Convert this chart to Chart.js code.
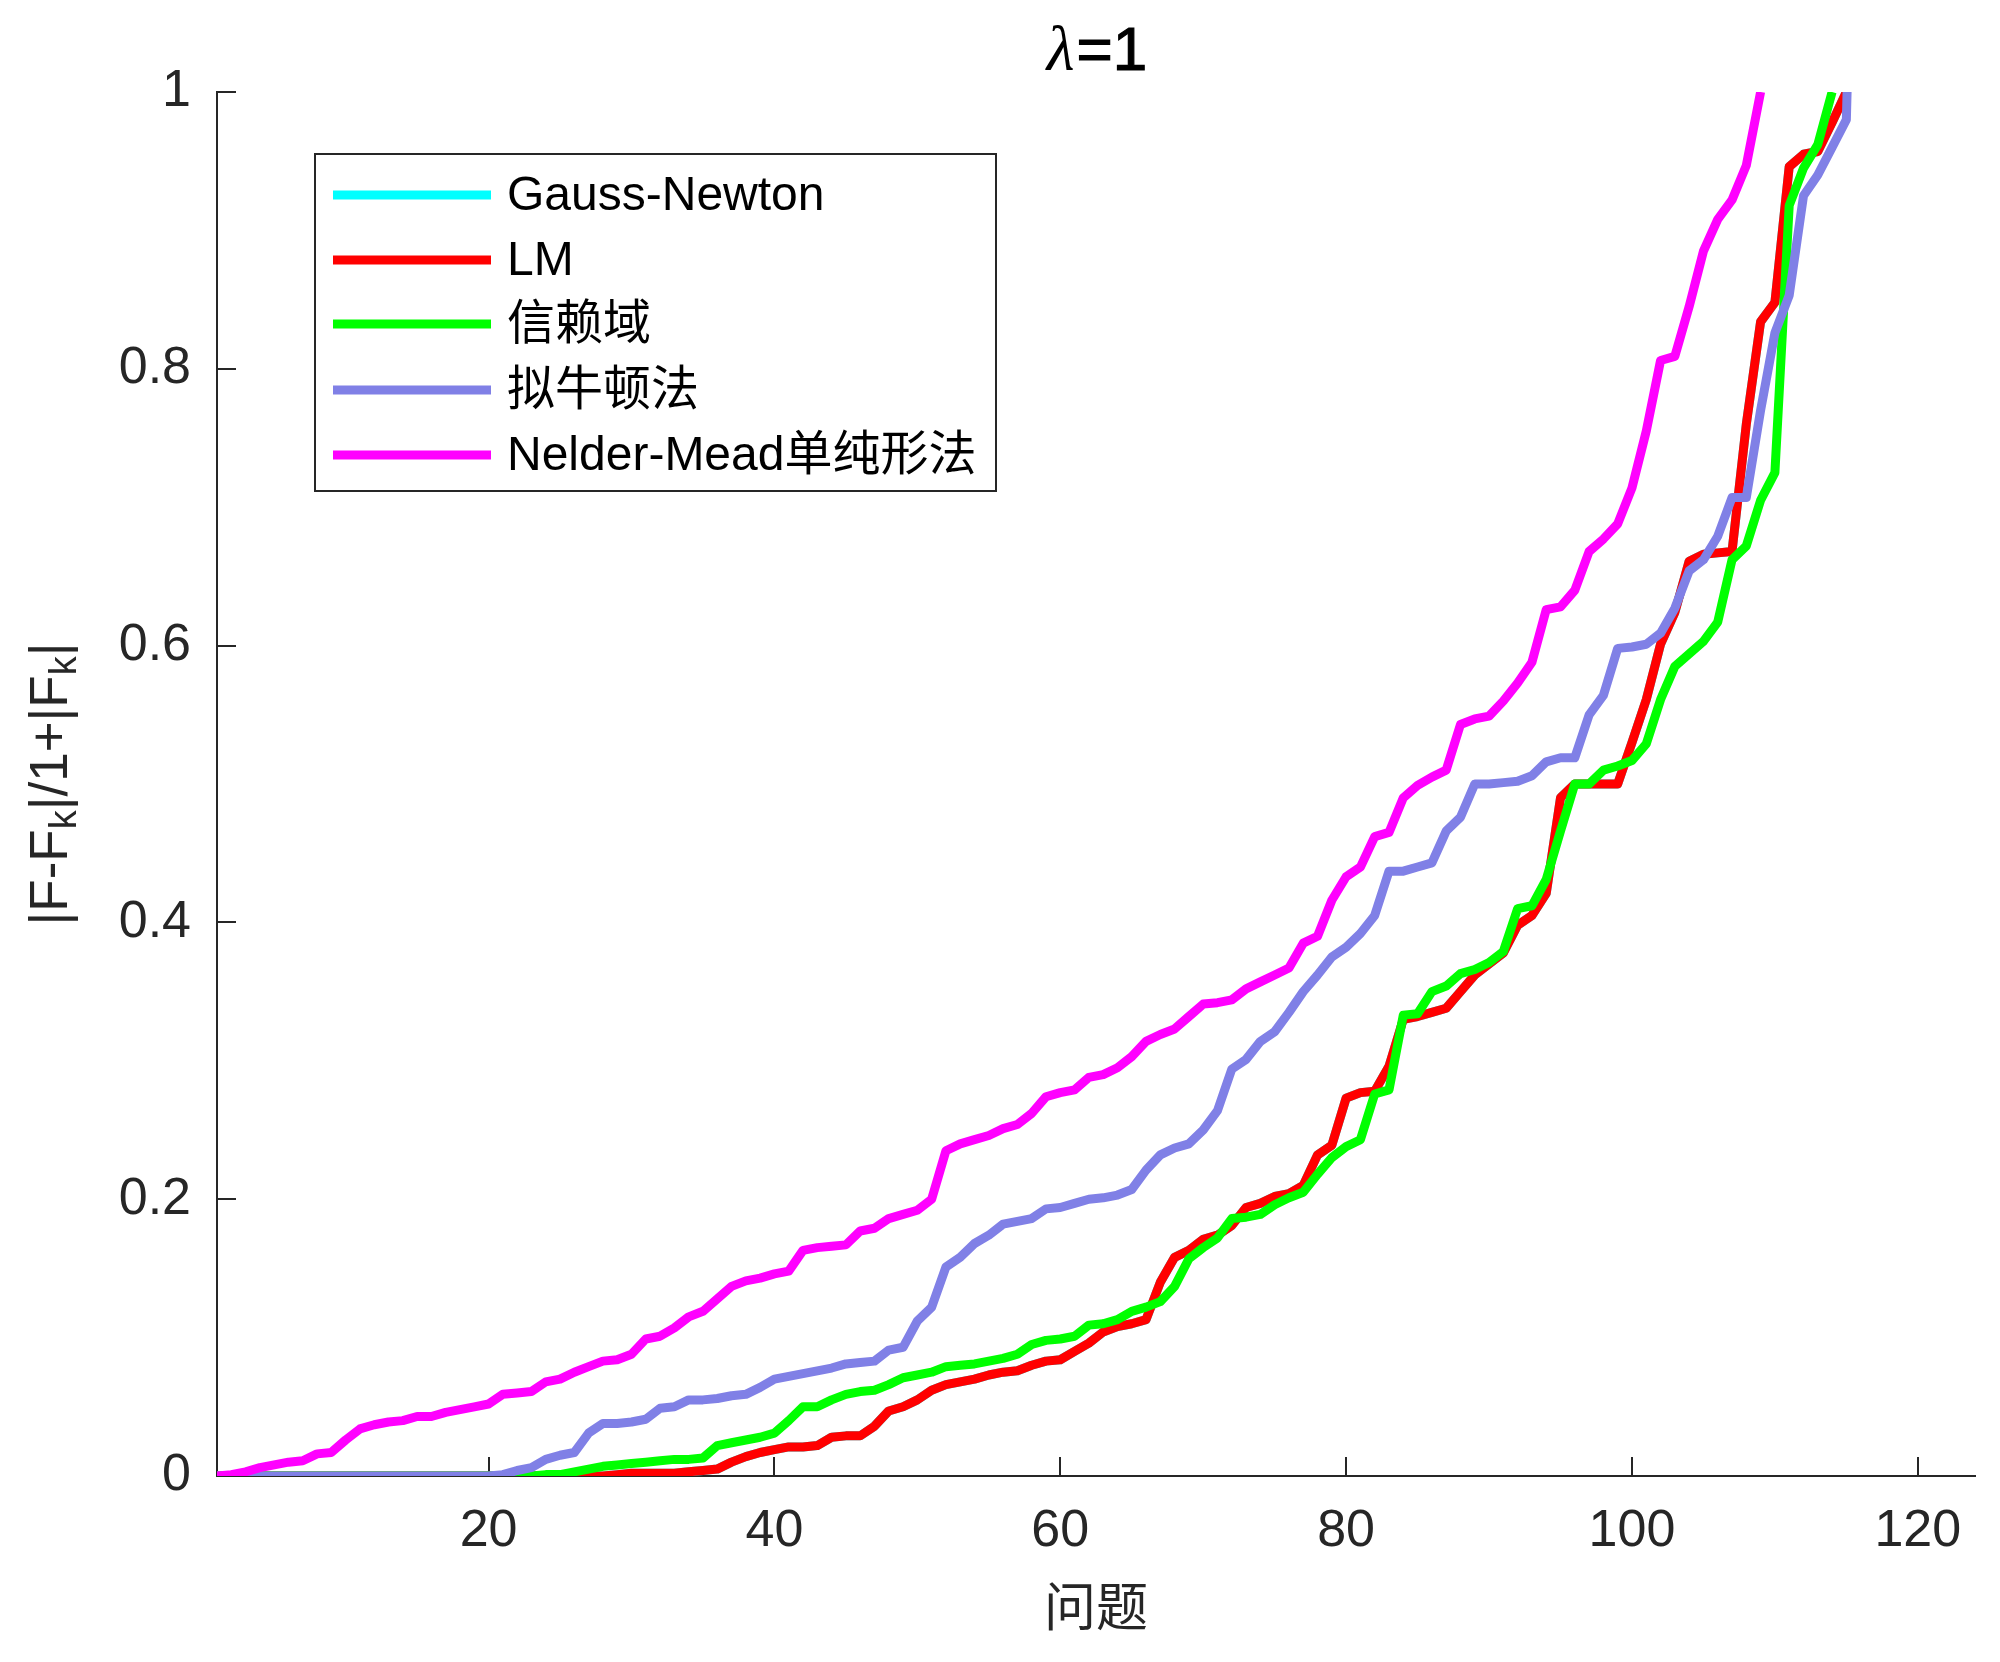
<!DOCTYPE html>
<html>
<head>
<meta charset="utf-8">
<script src="https://cdn.jsdelivr.net/npm/chart.js@4.4.0/dist/chart.umd.min.js"></script>
<style>
  html, body { margin: 0; padding: 0; background: #fff; }
  canvas { display: block; }
</style>
</head>
<body>
<canvas id="chart" width="2000" height="1662"></canvas>
<script>
// ticks
const xTicks = [20, 40, 60, 80, 100, 120];
const yTicks = [0, 0.2, 0.4, 0.6, 0.8, 1];

// legend names (plot order)
const seriesNames = ['Gauss-Newton', 'LM', '信赖域', '拟牛顿法', 'Nelder-Mead单纯形法'];

// values per problem, starting at problem 1
const lmVals = [
  0, 0, 0, 0, 0, 0, 0, 0, 0, 0,
  0, 0, 0, 0, 0, 0, 0, 0, 0, 0,
  0, 0, 0, 0, 0, 0, 0, 0, 0.001, 0.002,
  0.002, 0.002, 0.002, 0.003, 0.004, 0.005, 0.010, 0.014, 0.017, 0.019,
  0.021, 0.021, 0.022, 0.028, 0.029, 0.029, 0.036, 0.047, 0.050, 0.055,
  0.062, 0.066, 0.068, 0.070, 0.073, 0.075, 0.076, 0.080, 0.083, 0.084,
  0.090, 0.096, 0.104, 0.108, 0.110, 0.113, 0.140, 0.158, 0.163, 0.171,
  0.174, 0.181, 0.194, 0.197, 0.202, 0.204, 0.210, 0.232, 0.239, 0.273,
  0.277, 0.278, 0.296, 0.330, 0.332, 0.335, 0.338, 0.350, 0.362, 0.370,
  0.378, 0.398, 0.405, 0.421, 0.490, 0.500, 0.500, 0.500, 0.500, 0.530,
  0.561, 0.601, 0.624, 0.661, 0.666, 0.667, 0.668, 0.760, 0.834, 0.848,
  0.946, 0.955, 0.957, 0.978, 1.0
];
const gnVals = lmVals.slice(); // Gauss-Newton lies under LM
const trVals = [
  0, 0, 0, 0, 0, 0, 0, 0, 0, 0,
  0, 0, 0, 0, 0, 0, 0, 0, 0, 0,
  0, 0, 0, 0.001, 0.001, 0.003, 0.005, 0.007, 0.008, 0.009,
  0.010, 0.011, 0.012, 0.012, 0.013, 0.022, 0.024, 0.026, 0.028, 0.031,
  0.040, 0.050, 0.050, 0.055, 0.059, 0.061, 0.062, 0.066, 0.071, 0.073,
  0.075, 0.079, 0.080, 0.081, 0.083, 0.085, 0.088, 0.095, 0.098, 0.099,
  0.101, 0.109, 0.110, 0.113, 0.119, 0.122, 0.126, 0.137, 0.157, 0.165,
  0.172, 0.186, 0.187, 0.189, 0.196, 0.201, 0.205, 0.218, 0.230, 0.238,
  0.243, 0.276, 0.279, 0.333, 0.334, 0.350, 0.354, 0.363, 0.366, 0.371,
  0.379, 0.410, 0.412, 0.431, 0.466, 0.500, 0.500, 0.510, 0.513, 0.517,
  0.529, 0.561, 0.585, 0.594, 0.603, 0.617, 0.662, 0.672, 0.705, 0.725,
  0.918, 0.945, 0.962, 1.0
];
const qnVals = [
  0, 0, 0, 0, 0, 0, 0, 0, 0, 0,
  0, 0, 0, 0, 0, 0, 0, 0, 0, 0,
  0.001, 0.004, 0.006, 0.012, 0.015, 0.017, 0.031, 0.038, 0.038, 0.039,
  0.041, 0.049, 0.050, 0.055, 0.055, 0.056, 0.058, 0.059, 0.064, 0.070,
  0.072, 0.074, 0.076, 0.078, 0.081, 0.082, 0.083, 0.091, 0.093, 0.112,
  0.122, 0.151, 0.158, 0.168, 0.174, 0.182, 0.184, 0.186, 0.193, 0.194,
  0.197, 0.200, 0.201, 0.203, 0.207, 0.221, 0.232, 0.237, 0.240, 0.250,
  0.264, 0.294, 0.301, 0.314, 0.321, 0.335, 0.350, 0.362, 0.375, 0.382,
  0.392, 0.405, 0.437, 0.437, 0.440, 0.443, 0.466, 0.476, 0.500, 0.500,
  0.501, 0.502, 0.506, 0.516, 0.519, 0.519, 0.550, 0.564, 0.598, 0.599,
  0.601, 0.609, 0.627, 0.654, 0.662, 0.679, 0.707, 0.707, 0.770, 0.826,
  0.853, 0.925, 0.940, 0.960, 0.980
];
const qnExit = [115.05, 1.0]; // blue leaves the top right after problem 115
const nmVals = [
  0, 0.001, 0.003, 0.006, 0.008, 0.010, 0.011, 0.016, 0.017, 0.026,
  0.034, 0.037, 0.039, 0.040, 0.043, 0.043, 0.046, 0.048, 0.050, 0.052,
  0.059, 0.060, 0.061, 0.068, 0.070, 0.075, 0.079, 0.083, 0.084, 0.088,
  0.099, 0.101, 0.107, 0.115, 0.119, 0.128, 0.137, 0.141, 0.143, 0.146,
  0.148, 0.163, 0.165, 0.166, 0.167, 0.177, 0.179, 0.186, 0.189, 0.192,
  0.200, 0.235, 0.240, 0.243, 0.246, 0.251, 0.254, 0.262, 0.274, 0.277,
  0.279, 0.288, 0.290, 0.295, 0.303, 0.314, 0.319, 0.323, 0.332, 0.341,
  0.342, 0.344, 0.352, 0.357, 0.362, 0.367, 0.385, 0.390, 0.416, 0.433,
  0.440, 0.462, 0.465, 0.490, 0.499, 0.505, 0.510, 0.543, 0.547, 0.549,
  0.560, 0.573, 0.588, 0.626, 0.628, 0.640, 0.668, 0.677, 0.688, 0.714,
  0.755, 0.806, 0.809, 0.845, 0.885, 0.908, 0.922, 0.947, 1.0
];

const seriesColors = ['#00ffff', '#ff0000', '#00ff00', '#8080e6', '#ff00ff'];

const AXIS = '#262626';
const SANS = '"Liberation Sans", Arial, "Noto Sans CJK SC", sans-serif';
const LINE_W = 9;

const toPoints = (vals) => vals.map((v, i) => ({ x: i + 1, y: v }));

const allSeries = [gnVals, lmVals, trVals, qnVals, nmVals];
const datasets = allSeries.map((vals, i) => {
  const pts = toPoints(vals);
  if (i === 3) pts.push({ x: qnExit[0], y: qnExit[1] });
  return {
    label: seriesNames[i],
    data: pts,
    borderColor: seriesColors[i],
    backgroundColor: seriesColors[i],
    borderWidth: LINE_W,
    borderJoinStyle: 'round',
    pointRadius: 0,
    tension: 0,
    fill: false,
    order: 5 - i   // later series drawn on top, like the original plot
  };
});

// inward tick marks, MATLAB style
const tickMarks = {
  id: 'tickMarks',
  beforeDatasetsDraw(chart) {
    const { ctx, chartArea: a, scales: { x, y } } = chart;
    ctx.save();
    ctx.strokeStyle = AXIS;
    ctx.lineWidth = 2;
    ctx.beginPath();
    xTicks.forEach(v => {
      const px = Math.round(x.getPixelForValue(v));
      ctx.moveTo(px, a.bottom);
      ctx.lineTo(px, a.bottom - 19);
    });
    yTicks.forEach(v => {
      const py = Math.round(y.getPixelForValue(v));
      ctx.moveTo(a.left, py);
      ctx.lineTo(a.left + 19, py);
    });
    ctx.stroke();
    ctx.restore();
  }
};

// title, axis labels and legend box
const decorations = {
  id: 'decorations',
  afterDraw(chart) {
    const { ctx, chartArea: a } = chart;
    const cx = (a.left + a.right) / 2;
    ctx.save();

    // title  λ=1
    ctx.textBaseline = 'alphabetic';
    ctx.fillStyle = '#000';
    const fLam = 'italic 64px "Liberation Serif", "Times New Roman", serif';
    const fRest = '62px ' + SANS;
    ctx.font = fLam;
    const wL = ctx.measureText('λ').width;
    ctx.font = fRest;
    const wR = ctx.measureText('=1').width;
    const tx = cx - (wL + wR) / 2;
    ctx.font = fLam;
    ctx.fillText('λ', tx, 70);
    ctx.font = fRest;
    ctx.lineWidth = 1.2;
    ctx.strokeStyle = '#000';
    ctx.fillText('=1', tx + wL + 2, 70);
    ctx.strokeText('=1', tx + wL + 2, 70);

    // x label
    ctx.fillStyle = AXIS;
    ctx.font = '52px "Noto Sans CJK SC", sans-serif';
    ctx.textAlign = 'center';
    ctx.textBaseline = 'middle';
    ctx.fillText('问题', cx, 1606);

    // y label |F-F_k|/1+|F_k|
    const parts = [['|F-F', 0], ['k', 1], ['|/1+|F', 0], ['k', 1], ['|', 0]];
    const fMain = '53px ' + SANS;
    const fSub = '38px ' + SANS;
    let total = 0;
    parts.forEach(p => { ctx.font = p[1] ? fSub : fMain; total += ctx.measureText(p[0]).width; });
    ctx.translate(52, (a.top + a.bottom) / 2);
    ctx.rotate(-Math.PI / 2);
    ctx.textAlign = 'left';
    let px = -total / 2;
    parts.forEach(p => {
      ctx.font = p[1] ? fSub : fMain;
      ctx.fillText(p[0], px, p[1] ? 14 : 0);
      px += ctx.measureText(p[0]).width;
    });
    ctx.setTransform(1, 0, 0, 1, 0, 0);

    // legend
    const box = { x: 315, y: 154, w: 681, h: 337 };
    ctx.fillStyle = '#fff';
    ctx.fillRect(box.x, box.y, box.w, box.h);
    ctx.strokeStyle = AXIS;
    ctx.lineWidth = 2;
    ctx.strokeRect(box.x, box.y, box.w, box.h);
    const rows = [195, 260, 324, 390, 455];
    ctx.font = '48px ' + SANS;
    ctx.textAlign = 'left';
    ctx.textBaseline = 'middle';
    seriesNames.forEach((name, i) => {
      ctx.strokeStyle = seriesColors[i];
      ctx.lineWidth = LINE_W;
      ctx.beginPath();
      ctx.moveTo(333, rows[i]);
      ctx.lineTo(491, rows[i]);
      ctx.stroke();
      ctx.fillStyle = '#000';
      ctx.fillText(name, 507, rows[i] + 2);
    });
    ctx.restore();
  }
};

new Chart(document.getElementById('chart'), {
  type: 'line',
  data: { datasets },
  options: {
    responsive: false,
    animation: false,
    devicePixelRatio: 1,
    parsing: false,
    layout: { padding: { left: 0, top: 92, right: 25, bottom: 0 } },
    plugins: {
      legend: { display: false },
      tooltip: { enabled: false },
      title: { display: false }
    },
    scales: {
      x: {
        type: 'linear',
        min: 1,
        max: 124,
        afterFit: (s) => { s.height = 186; },
        afterBuildTicks: (s) => { s.ticks = xTicks.map(v => ({ value: v })); },
        grid: { display: false, drawTicks: false },
        border: { display: true, color: AXIS, width: 2 },
        ticks: {
          color: AXIS,
          font: { family: SANS, size: 52 },
          padding: 24,
          maxRotation: 0,
          autoSkip: false
        }
      },
      y: {
        type: 'linear',
        min: 0,
        max: 1,
        afterFit: (s) => { s.width = 217; },
        afterBuildTicks: (s) => { s.ticks = yTicks.map(v => ({ value: v })); },
        grid: { display: false, drawTicks: false },
        border: { display: true, color: AXIS, width: 2 },
        ticks: {
          color: AXIS,
          font: { family: SANS, size: 52 },
          padding: 26,
          callback: (v) => String(v)
        }
      }
    }
  },
  plugins: [tickMarks, decorations]
});
</script>
</body>
</html>
